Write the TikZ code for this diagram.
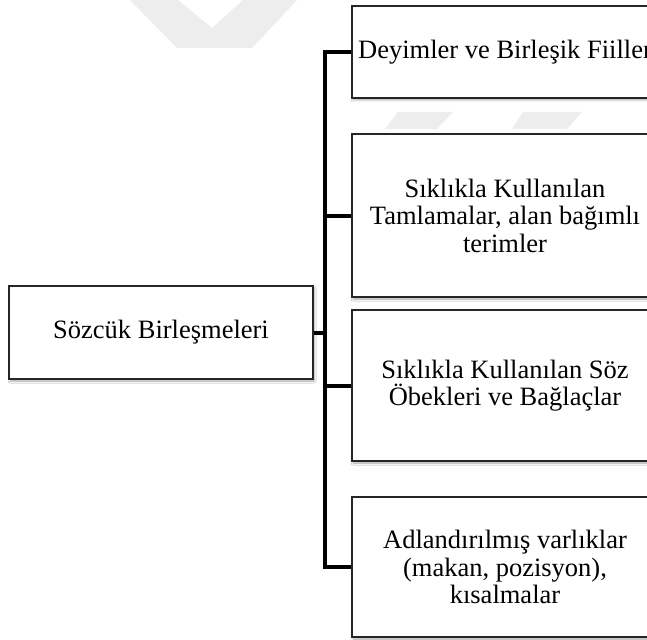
\documentclass[tikz,border=0pt]{standalone}
\usepackage{fontspec}
\setmainfont{Liberation Serif}
\usetikzlibrary{shadows.blur}

\tikzset{
  box/.style={draw=black!85, line width=1.3pt, fill=white, rectangle,
    align=center, inner sep=2pt,
    font=\fontsize{26.5}{27.5}\selectfont,
    blur shadow={shadow xshift=1.2pt, shadow yshift=-2pt,
      shadow blur radius=2pt, shadow blur steps=6, shadow opacity=35}},
  conn/.style={line width=4pt, black, line join=miter},
  emblem/.style={fill=black!7, draw=none}
}

\begin{document}
\begin{tikzpicture}[x=1pt, y=-1pt]
  \clip (0,0) rectangle (647,639);
  \fill[white] (0,0) rectangle (647,639);

  % faint background emblem
  \fill[emblem, even odd rule] (130,0) -- (297,0) -- (252,48) -- (177,48) -- cycle
        (178,0) -- (243,0) -- (212,28) -- cycle;
  \fill[emblem] (398,112) -- (453,112) -- (437,129) -- (385,129) -- cycle;
  \fill[emblem] (523,112) -- (582,112) -- (567,129) -- (512,129) -- cycle;

  % root
  \node[box, minimum width=304pt, minimum height=93pt] (root) at (161,332.5)
    {Sözcük Birleşmeleri};

  % branches
  \node[box, minimum width=306pt, minimum height=92pt] (b1) at (505,52)
    {Deyimler ve Birleşik Fiiller};
  \node[box, minimum width=306pt, minimum height=163pt] (b2) at (505,215.5)
    {Sıklıkla Kullanılan\\Tamlamalar, alan bağımlı\\terimler};
  \node[box, minimum width=306pt, minimum height=151pt] (b3) at (505,385.5)
    {Sıklıkla Kullanılan Söz\\Öbekleri ve Bağlaçlar};
  \node[box, minimum width=306pt, minimum height=140pt] (b4) at (505,567)
    {Adlandırılmış varlıklar\\(makan, pozisyon),\\kısalmalar};

  % bracket connectors
  \coordinate (bus) at (325,0);
  \draw[conn] (b1.west) -- (b1.west -| bus) -- (b4.west -| bus) -- (b4.west);
  \draw[conn] (root.east) -- (root.east -| bus);
  \draw[conn] (b2.west) -- (b2.west -| bus);
  \draw[conn] (b3.west) -- (b3.west -| bus);
\end{tikzpicture}
\end{document}
